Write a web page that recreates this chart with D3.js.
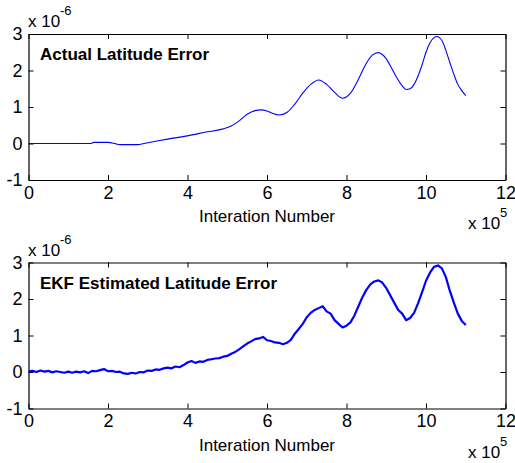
<!DOCTYPE html>
<html>
<head>
<meta charset="utf-8">
<script src="https://cdn.jsdelivr.net/npm/d3@7"></script>
<style>
  body { margin: 0; background: #fff; }
  text { font-family: "Liberation Sans", Arial, Helvetica, sans-serif; fill: #000; }
</style>
</head>
<body>
<svg id="chart" width="515" height="463"></svg>
<script>
// x in units of 1e5 iterations, y in units of 1e-6
const xTicks = [0, 2, 4, 6, 8, 10, 12];
const yTicks = [-1, 0, 1, 2, 3];
const xLabel = 'Interation Number';
const titles = ['Actual Latitude Error', 'EKF Estimated Latitude Error'];

const actualX = [0, 1.0, 1.55, 1.65, 2.0, 2.2, 2.3, 2.75, 2.9, 3.2, 3.5, 4.0, 4.5, 4.9, 5.1, 5.3, 5.5, 5.7,
  5.85, 6.0, 6.15, 6.3, 6.5, 6.7, 6.9, 7.1, 7.3, 7.5, 7.7, 7.9, 8.1, 8.3, 8.5, 8.65, 8.8, 9.0, 9.2, 9.4,
  9.5, 9.6, 9.7, 9.8, 9.9, 10.0, 10.1, 10.2, 10.27, 10.4, 10.5, 10.6, 10.7, 10.8, 10.9, 11.0];
const actualY = [0, 0, 0, 0.03, 0.03, -0.01, -0.03, -0.03, 0.0, 0.06, 0.12, 0.21, 0.32, 0.40, 0.48, 0.62, 0.80, 0.90,
  0.92, 0.89, 0.82, 0.78, 0.85, 1.08, 1.38, 1.62, 1.74, 1.62, 1.40, 1.24, 1.38, 1.76, 2.20, 2.42, 2.49, 2.32, 1.93, 1.58,
  1.48, 1.50, 1.62, 1.85, 2.15, 2.50, 2.76, 2.90, 2.93, 2.82, 2.55, 2.22, 1.90, 1.62, 1.45, 1.31];

const ekfX = [0, 0.1, 0.2, 0.3, 0.4, 0.5, 0.6, 0.7, 0.8, 0.9, 1.0, 1.1, 1.2, 1.3, 1.4, 1.5, 1.6, 1.7, 1.8, 1.9,
  2.0, 2.1, 2.2, 2.3, 2.4, 2.5, 2.6, 2.7, 2.8, 2.9, 3.0, 3.1, 3.2, 3.3, 3.4, 3.5, 3.6, 3.7, 3.8, 3.9,
  4.0, 4.1, 4.2, 4.3, 4.4, 4.5, 4.6, 4.7, 4.8, 4.9, 5.0, 5.1, 5.2, 5.3, 5.4, 5.5, 5.6, 5.7, 5.8, 5.9,
  6.0, 6.1, 6.2, 6.3, 6.4, 6.5, 6.6, 6.7, 6.8, 6.9, 7.0, 7.1, 7.2, 7.3, 7.4, 7.5, 7.6, 7.7, 7.8, 7.9,
  8.0, 8.1, 8.2, 8.3, 8.4, 8.5, 8.6, 8.7, 8.8, 8.9, 9.0, 9.1, 9.2, 9.3, 9.4, 9.5, 9.6, 9.7, 9.8, 9.9,
  10.0, 10.1, 10.2, 10.3, 10.4, 10.5, 10.6, 10.7, 10.8, 10.9, 11.0];
const ekfY = [0.02, 0.03, 0.00, 0.04, 0.01, 0.03, -0.01, 0.02, 0.00, -0.02, 0.01, -0.02, 0.01, -0.01, 0.02, -0.03, 0.03, 0.02, 0.05, 0.08,
  0.02, 0.03, 0.00, 0.01, -0.04, -0.05, -0.02, -0.04, 0.00, -0.01, 0.04, 0.03, 0.07, 0.06, 0.10, 0.12, 0.10, 0.15, 0.13, 0.19,
  0.26, 0.30, 0.25, 0.29, 0.28, 0.33, 0.35, 0.37, 0.38, 0.42, 0.44, 0.50, 0.55, 0.62, 0.70, 0.78, 0.84, 0.90, 0.92, 0.96,
  0.87, 0.85, 0.81, 0.80, 0.76, 0.80, 0.88, 1.05, 1.18, 1.32, 1.50, 1.62, 1.70, 1.75, 1.80, 1.66, 1.60, 1.42, 1.32, 1.22,
  1.27, 1.36, 1.55, 1.80, 2.05, 2.25, 2.40, 2.48, 2.51, 2.45, 2.30, 2.10, 1.90, 1.70, 1.60, 1.42, 1.48, 1.62, 1.88, 2.18,
  2.50, 2.72, 2.88, 2.92, 2.84, 2.60, 2.22, 1.90, 1.60, 1.40, 1.29];

const svg = d3.select('#chart');
const x = d3.scaleLinear().domain([0, 12]).range([28.5, 505.5]);
const plain = d => String(d);

function drawPanel(top, xs, ys, title, noisy) {
  const y = d3.scaleLinear().domain([-1, 3]).range([top + 146, top]);
  const g = svg.append('g');

  const bottomAxis = g.append('g').attr('transform', `translate(0,${top + 146})`)
    .call(d3.axisBottom(x).tickValues(xTicks).tickFormat(plain)
      .tickSizeInner(-5).tickSizeOuter(0).tickPadding(6));
  const leftAxis = g.append('g').attr('transform', `translate(${x(0)},0)`)
    .call(d3.axisLeft(y).tickValues(yTicks).tickFormat(plain)
      .tickSizeInner(-5).tickSizeOuter(0).tickPadding(6));
  g.append('g').attr('transform', `translate(0,${top})`)
    .call(d3.axisTop(x).tickValues(xTicks).tickSizeInner(-5).tickSizeOuter(0).tickFormat(''));
  g.append('g').attr('transform', `translate(${x(12)},0)`)
    .call(d3.axisRight(y).tickValues(yTicks).tickSizeInner(-5).tickSizeOuter(0).tickFormat(''));

  g.selectAll('.domain').attr('stroke', '#000').attr('stroke-width', 1.2);
  g.selectAll('.tick line').attr('stroke', '#000');
  bottomAxis.selectAll('text').attr('font-size', 18).attr('fill', '#000');
  leftAxis.selectAll('text').attr('font-size', 18).attr('fill', '#000');

  const line = d3.line()
    .x((d, i) => x(xs[i]))
    .y(d => y(d))
    .curve(noisy ? d3.curveLinear : d3.curveMonotoneX);
  g.append('path')
    .datum(ys)
    .attr('fill', 'none')
    .attr('stroke', '#0000ff')
    .attr('stroke-width', noisy ? 2.2 : 1.1)
    .attr('stroke-linejoin', 'round')
    .attr('d', line);

  // title inside axes
  g.append('text').attr('x', 40).attr('y', top + 26)
    .attr('font-size', 17).attr('font-weight', 'bold').text(title);

  // exponent label on y
  g.append('text').attr('x', 28).attr('y', top - 7).attr('font-size', 17).text('x 10');
  g.append('text').attr('x', 60).attr('y', top - 19).attr('font-size', 13).text('-6');

  // x axis label
  g.append('text').attr('x', 267).attr('y', top + 188).attr('text-anchor', 'middle')
    .attr('font-size', 17).text(xLabel);

  // exponent label on x
  g.append('text').attr('x', 468).attr('y', top + 195).attr('font-size', 17).text('x 10');
  g.append('text').attr('x', 500).attr('y', top + 183).attr('font-size', 13).text('5');
}

drawPanel(34, actualX, actualY, titles[0], false);
drawPanel(262.5, ekfX, ekfY, titles[1], true);
</script>
</body>
</html>
